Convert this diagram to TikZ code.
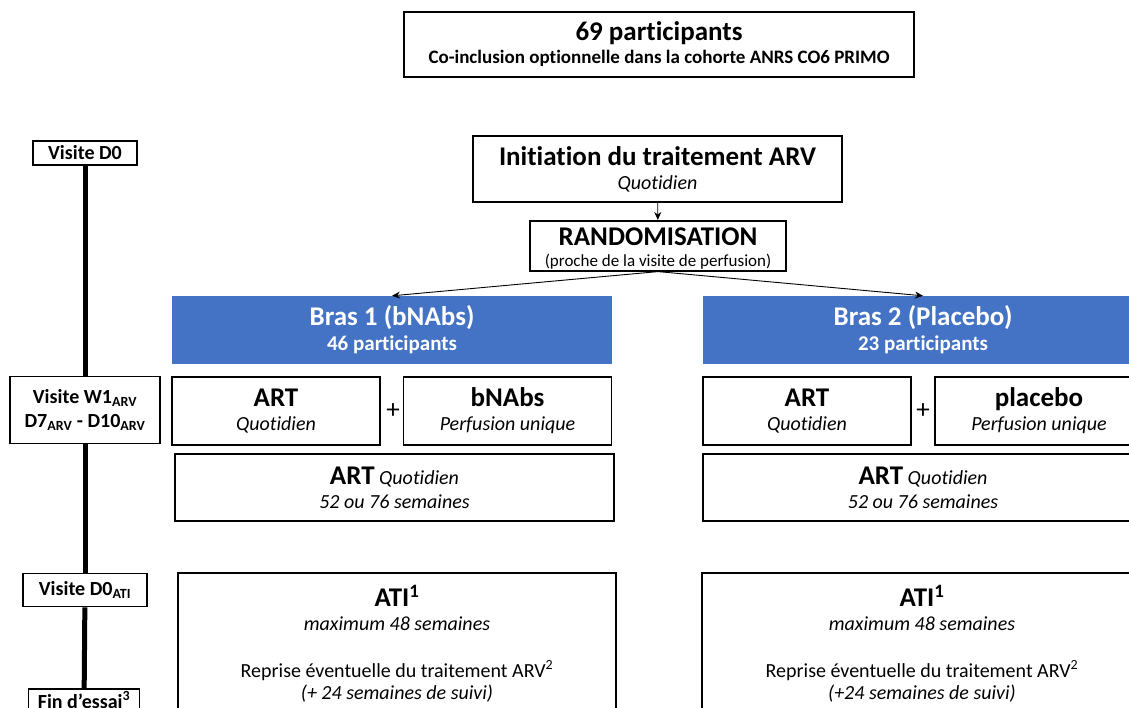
\documentclass[tikz,border=0pt]{standalone}
\usepackage{fontspec}
\setmainfont{Carlito}[Ligatures=NoCommon]
\usetikzlibrary{arrows.meta,positioning}
\definecolor{BrasBlue}{HTML}{4472C4}
\newcommand{\ttl}{\fontsize{27}{30}\selectfont\bfseries}
\newcommand{\sml}{\fontsize{20}{24}\selectfont}

\begin{document}
\begin{tikzpicture}[
  x=1pt, y=-1pt,
  box/.style={draw, line width=1.6pt, fill=white, align=center, inner sep=0pt, font=\sml},
  visit/.style={box, font=\fontsize{20}{24}\selectfont\bfseries},
  arm/.style={fill=BrasBlue, text=white, align=center, inner sep=0pt,
    minimum width=440pt, minimum height=68pt, font=\fontsize{21}{25}\selectfont},
  treat/.style={box, minimum width=208pt, minimum height=68pt},
  plus/.style={font=\fontsize{27}{30}\selectfont},
  arrow/.style={-{Stealth[length=8pt,width=7pt]}, line width=0.9pt}
]
\useasboundingbox (0,0) rectangle (1129,708);
\clip (0,0) rectangle (1129,708);

% inclusion
\node[box, minimum width=510pt, minimum height=65pt, font=\fontsize{19}{23}\selectfont\bfseries] (incl) at (659,44.5)
  {{\ttl 69 participants}\\Co-inclusion optionnelle dans la cohorte ANRS CO6 PRIMO};

% visites
\node[visit, minimum width=104pt, minimum height=24pt] (d0) at (85,153) {Visite D0};
\node[visit, minimum width=150pt, minimum height=67pt] (w1) at (85,410)
  {Visite W1\textsubscript{ARV}\\D7\textsubscript{ARV} - D10\textsubscript{ARV}};
\node[visit, minimum width=124pt, minimum height=33pt] (d0ati) at (85,590) {Visite D0\textsubscript{ATI}};
\node[visit, anchor=north, minimum width=111pt, inner ysep=3pt, text depth=20pt] (fin) at (84,688) {Fin d’essai\textsuperscript{3}};

\draw[line width=5pt] (d0) -- (w1);
\draw[line width=5pt] (w1) -- (d0ati);
\draw[line width=5pt] (d0ati) -- (fin);

% initiation et randomisation
\node[box, minimum width=369pt, minimum height=66pt] (init) at (657.5,169)
  {{\ttl Initiation du traitement ARV}\\\textit{Quotidien}};
\node[box, anchor=north, minimum width=256pt, text height=46pt, text depth=4pt, font=\fontsize{17}{21}\selectfont] (rando) at (658,220)
  {{\ttl RANDOMISATION}\\(proche de la visite de perfusion)};

% bras
\node[arm] (bras1) at (392,330) {{\ttl Bras 1 (bNAbs)}\\\textbf{46 participants}};
\node[arm] (bras2) at (923,330) {{\ttl Bras 2 (Placebo)}\\\textbf{23 participants}};

\draw[arrow] (init) -- (rando);
\draw[arrow] (rando.south) -- (bras1.north);
\draw[arrow] (rando.south) -- (bras2.north);

% bras 1
\node[treat] (art1) at (276,411) {{\ttl ART}\\\textit{Quotidien}};
\node[plus] (plus1) at (393,411) {+};
\node[treat] (bnabs) at (507.5,411) {{\ttl bNAbs}\\\textit{Perfusion unique}};
\node[box, minimum width=439pt, minimum height=67pt] (artq1) at (394.5,487.5)
  {{\ttl ART} \textit{Quotidien}\\\textit{52 ou 76 semaines}};
\node[box, anchor=north, minimum width=438pt, inner ysep=12pt, text depth=40pt] (ati1) at (397,572)
  {{\ttl ATI\textsuperscript{1}}\\\textit{maximum 48 semaines}\\[23pt]
   Reprise éventuelle du traitement ARV\textsuperscript{2}\\[-2pt]\textit{(+ 24 semaines de suivi)}};

% bras 2
\node[treat] (art2) at (807,411) {{\ttl ART}\\\textit{Quotidien}};
\node[plus] (plus2) at (923,411) {+};
\node[treat] (placebo) at (1039,411) {{\ttl placebo}\\\textit{Perfusion unique}};
\node[box, minimum width=440pt, minimum height=67pt] (artq2) at (923,487.5)
  {{\ttl ART} \textit{Quotidien}\\\textit{52 ou 76 semaines}};
\node[box, anchor=north, minimum width=440pt, inner ysep=12pt, text depth=40pt] (ati2) at (922,572)
  {{\ttl ATI\textsuperscript{1}}\\\textit{maximum 48 semaines}\\[23pt]
   Reprise éventuelle du traitement ARV\textsuperscript{2}\\[-2pt]\textit{(+24 semaines de suivi)}};
\end{tikzpicture}
\end{document}
